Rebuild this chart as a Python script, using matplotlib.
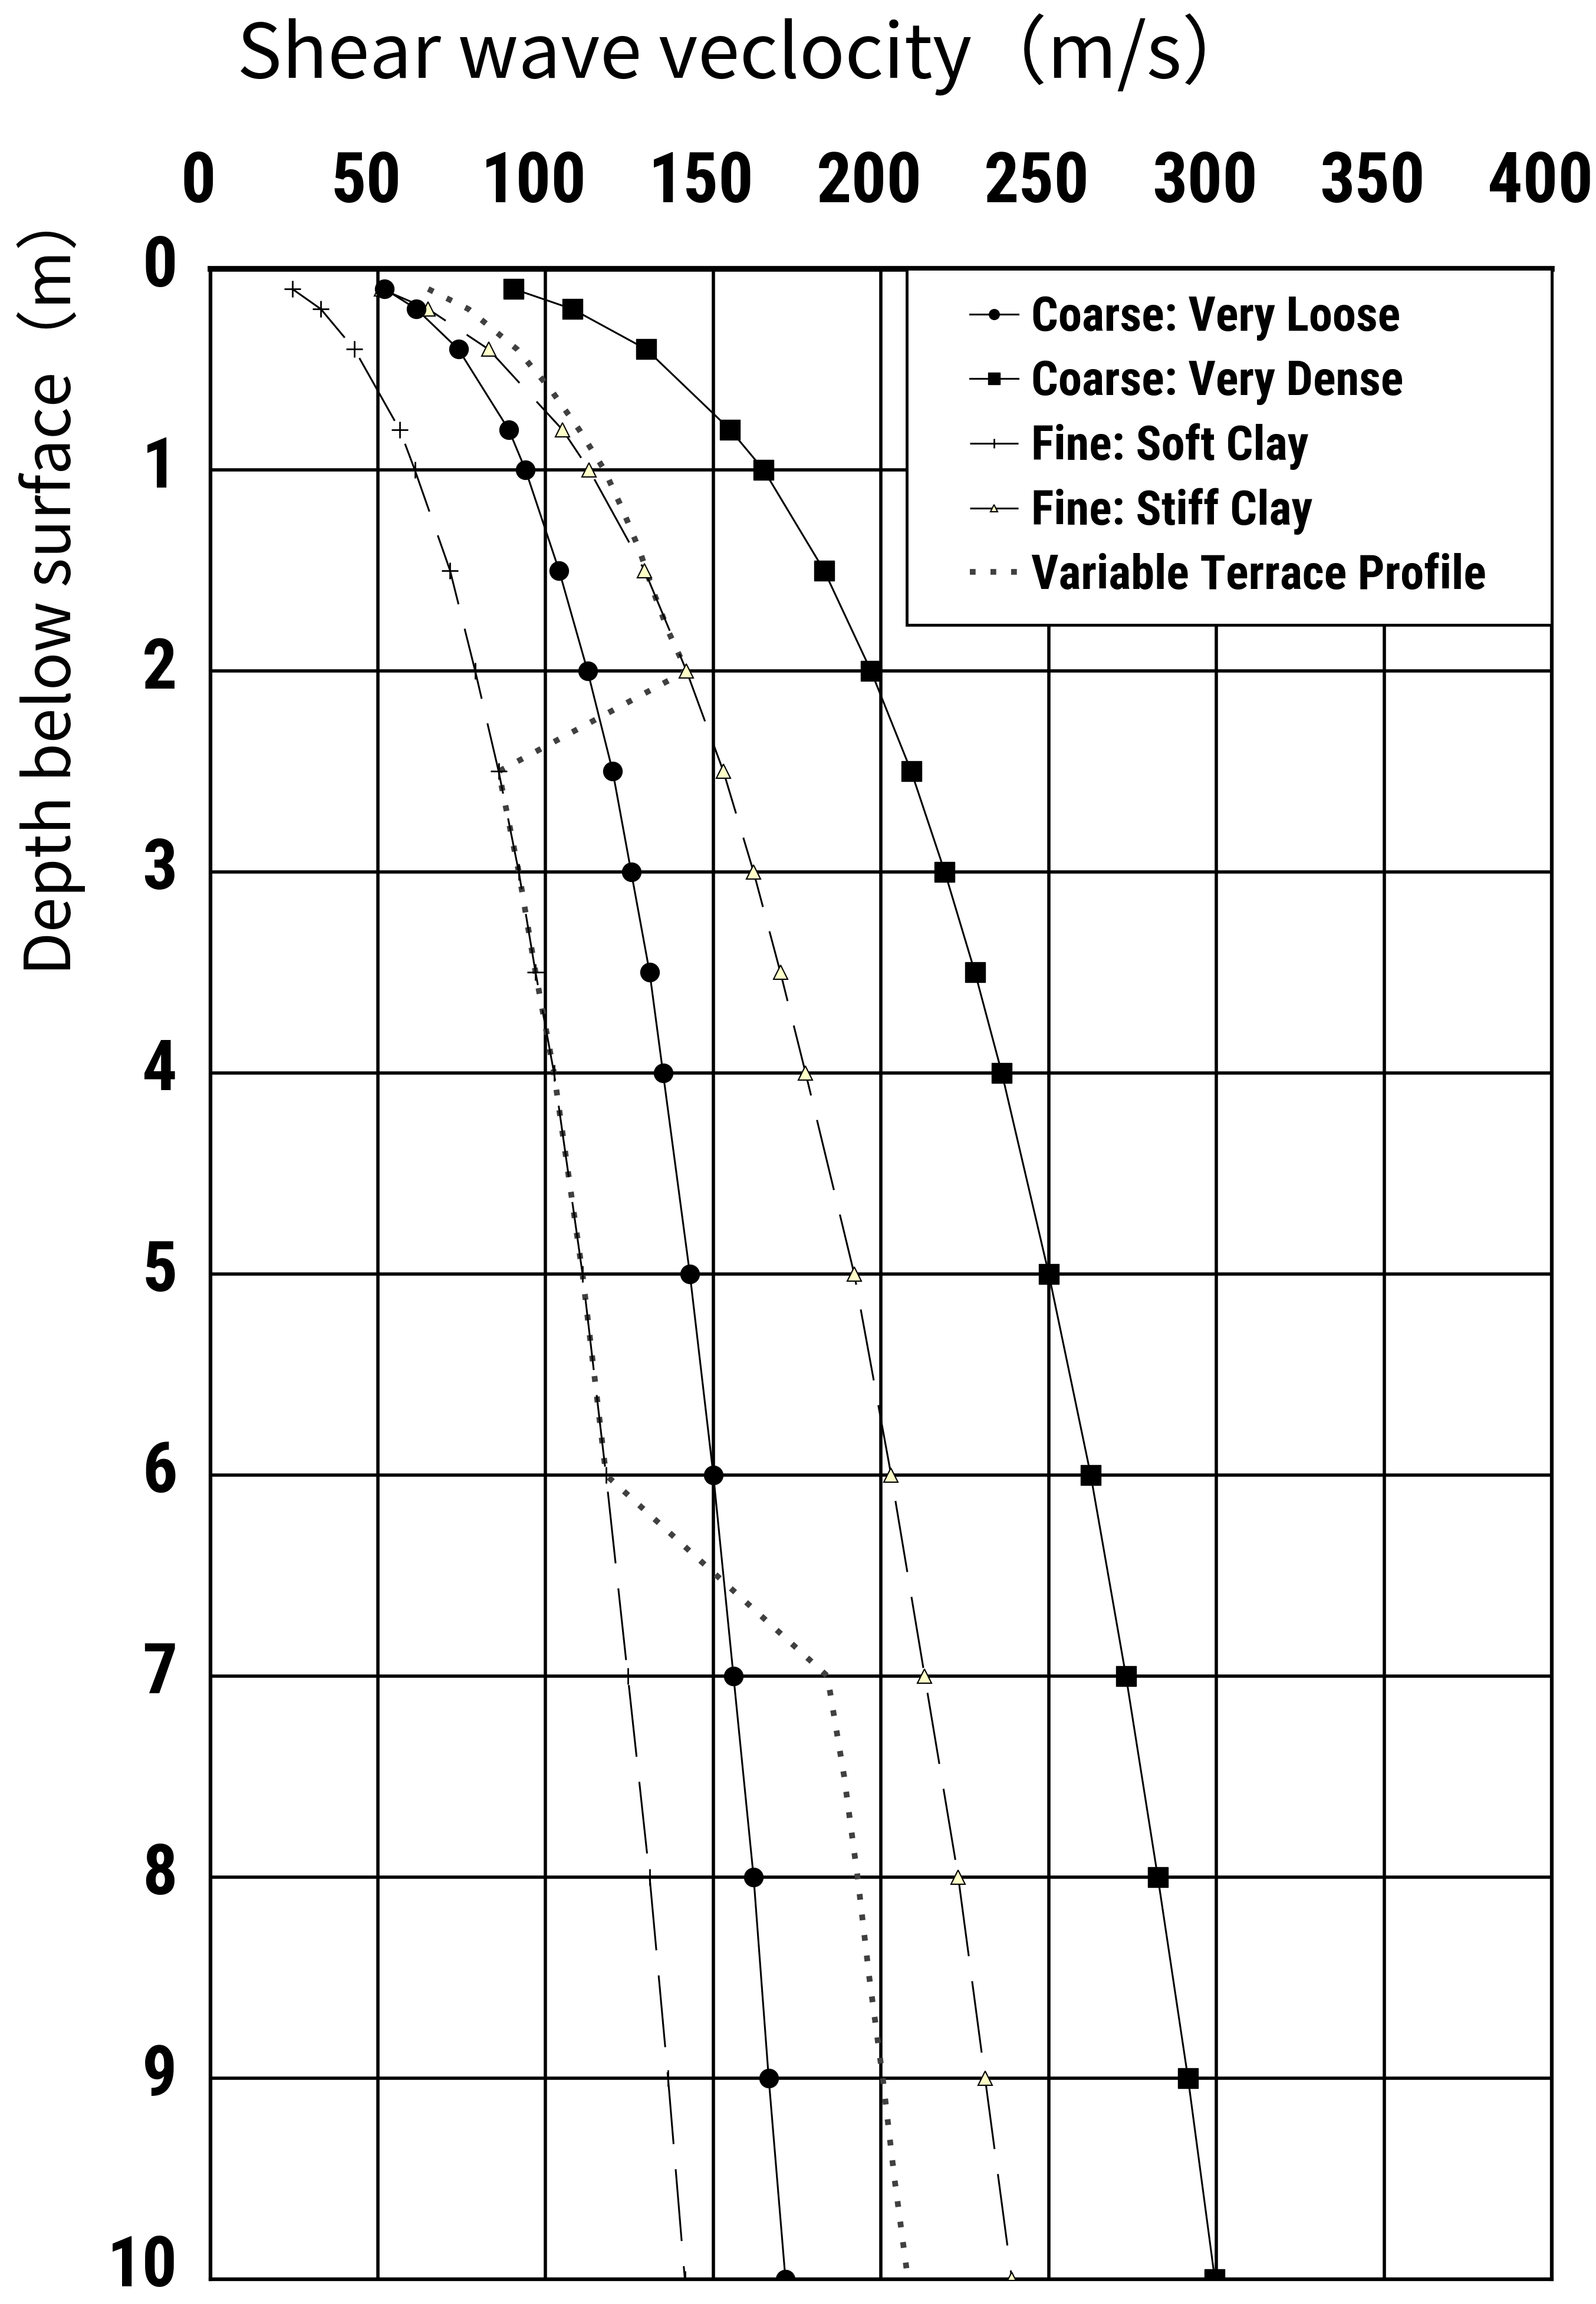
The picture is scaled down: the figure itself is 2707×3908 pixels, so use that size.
# Profils de vitesse des ondes de cisaillement en fonction de la profondeur
import matplotlib
matplotlib.use("Agg")

import matplotlib.pyplot as plt
from matplotlib import font_manager
from matplotlib.legend_handler import HandlerLine2D
from matplotlib.transforms import ScaledTranslation

# Profondeurs communes aux quatre profils types (m)
profondeurs = [0.1, 0.2, 0.4, 0.8, 1.0, 1.5, 2.0, 2.5, 3.0, 3.5, 4.0,
               5.0, 6.0, 7.0, 8.0, 9.0, 10.0]

# Vitesses (m/s)
vs_tres_lache = [52, 61.5, 74, 89, 94, 104, 112.5, 120, 125.5, 131, 135,
                 143, 150, 156, 162, 166.5, 171.5]
vs_tres_dense = [90.5, 108, 130, 155, 165, 183, 197, 209, 219, 228, 236,
                 250, 262.5, 273, 282.5, 291.5, 299.5]
vs_argile_molle = [24.5, 33, 43, 56.5, 61, 71.5, 79, 86, 92, 97, 102.5,
                   111, 118, 124.5, 131, 136.5, 141.5]
vs_argile_raide = [51, 65, 83, 105, 113, 129.5, 142, 153, 162, 170, 177.5,
                   192, 203, 213, 223, 231, 239]

# Profil de terrasse variable (trace pointillé)
profondeurs_terrasse = [0.1, 0.2, 0.4, 0.6, 0.8, 1.0, 1.2, 1.4, 1.6, 1.8,
                        2.0, 2.5, 3.0, 3.5, 4.0, 5.0, 6.0, 7.0, 7.5, 8.0,
                        8.5, 9.0, 9.5, 10.0]
vs_terrasse = [65, 77, 91.5, 101.5, 110, 117.5, 123, 128, 132, 136.5,
               142, 86, 92, 97, 102.5, 111, 118, 184, 189, 193,
               196.5, 200.5, 204, 208]

libelles = ["Coarse: Very Loose", "Coarse: Very Dense", "Fine: Soft Clay",
            "Fine: Stiff Clay", "Variable Terrace Profile"]

graduations_x = [0, 50, 100, 150, 200, 250, 300, 350, 400]
graduations_y = [0, 1, 2, 3, 4, 5, 6, 7, 8, 9, 10]

titre = "Shear wave veclocity（m/s）"
titre_y = "Depth below surface（m）"


def premiere_police(candidates):
    """Renvoie la première police installée parmi les candidates."""
    installees = {f.name for f in font_manager.fontManager.ttflist}
    for nom in candidates:
        if nom in installees:
            return nom
    return "DejaVu Sans"


def tracer_profils():
    """Trace les profils Vs(z) et enregistre la figure dans out.png."""

    # Polices étroites et grasses, proches de celles de l'original
    police_axes = premiere_police(["Liberation Sans Narrow", "Arial Narrow",
                                   "Roboto Condensed", "Barlow Condensed",
                                   "Liberation Sans"])
    police_legende = premiere_police(["Liberation Sans Narrow", "Arial Narrow",
                                      "Roboto Condensed", "Barlow Semi Condensed",
                                      "Liberation Sans"])
    police_titre = ["Noto Sans CJK SC", "DejaVu Sans"]

    fig = plt.figure(figsize=(27.07, 39.08), dpi=100)
    ax = fig.add_axes([0.1317, 0.0108, 0.8407, 0.8725])

    lw = 2.2
    tirets = (0, (40, 14))

    ax.plot(vs_tres_lache, profondeurs, color="black", lw=lw, marker="o",
            ms=23, label=libelles[0], zorder=5)
    ax.plot(vs_tres_dense, profondeurs, color="black", lw=lw, marker="s",
            ms=25, label=libelles[1], zorder=5)
    ax.plot(vs_argile_molle, profondeurs, color="black", lw=lw, ls=tirets,
            marker="+", ms=20, mew=2, label=libelles[2], zorder=4)
    ax.plot(vs_argile_raide, profondeurs, color="black", lw=lw, ls=tirets,
            marker="^", ms=17, mfc="#ffffc8", mec="black", mew=1.5,
            label=libelles[3], zorder=4)
    ax.plot(vs_terrasse, profondeurs_terrasse, color="#404040", lw=7,
            ls=(0, (1, 2.6)), label=libelles[4], zorder=3)

    # Axes : vitesses en haut, profondeur croissante vers le bas
    ax.set_xlim(0, 400)
    ax.set_ylim(10, 0)
    ax.xaxis.tick_top()
    ax.set_xticks(graduations_x)
    ax.set_yticks(graduations_y)
    ax.tick_params(length=0)
    ax.tick_params(axis="x", pad=64)
    ax.tick_params(axis="y", pad=40)
    ax.grid(True, color="black", lw=4)
    ax.set_axisbelow(True)
    for cote in ax.spines.values():
        cote.set_linewidth(4.5)
    ax.spines["top"].set_linewidth(7)

    # Étiquettes légèrement décalées par rapport au quadrillage
    decalage_x = ScaledTranslation(-0.2, 0, fig.dpi_scale_trans)
    for lab in ax.get_xticklabels():
        lab.set_family(police_axes)
        lab.set_fontweight("bold")
        lab.set_fontsize(85)
        lab.set_transform(lab.get_transform() + decalage_x)
    etiquettes_y = ax.get_yticklabels()
    for i, lab in enumerate(etiquettes_y):
        # la dernière étiquette (10) est remontée pour rester dans l'image
        dy = 0.32 if i == len(etiquettes_y) - 1 else 0.15
        lab.set_family(police_axes)
        lab.set_fontweight("bold")
        lab.set_fontsize(85)
        lab.set_transform(lab.get_transform()
                          + ScaledTranslation(0, dy, fig.dpi_scale_trans))

    # Titres
    fig.text(0.468, 0.9764, titre, family=police_titre, fontsize=92,
             ha="center", va="center")
    fig.text(0.032, 0.7477, titre_y, family=police_titre, fontsize=77,
             rotation=90, ha="center", va="center")

    # Légende encadrée en haut à droite
    taille_legende = 50 if police_legende == "Liberation Sans" else 58
    poignee = HandlerLine2D(numpoints=1, xpad=0.78)
    leg = ax.legend(loc="upper left", bbox_to_anchor=(0.519, 1.0, 0.481, 0.0),
                    mode="expand", borderaxespad=0, borderpad=0.55,
                    labelspacing=0.38, handlelength=1.8, handletextpad=0.27,
                    markerscale=0.55, fancybox=False, framealpha=1,
                    edgecolor="black",
                    prop={"family": police_legende, "weight": "bold",
                          "size": taille_legende},
                    handler_map={l: poignee for l in ax.get_lines()})
    leg.get_frame().set_linewidth(3.5)
    leg.set_zorder(10)

    fig.savefig("out.png", dpi=100)


if __name__ == "__main__":
    tracer_profils()
